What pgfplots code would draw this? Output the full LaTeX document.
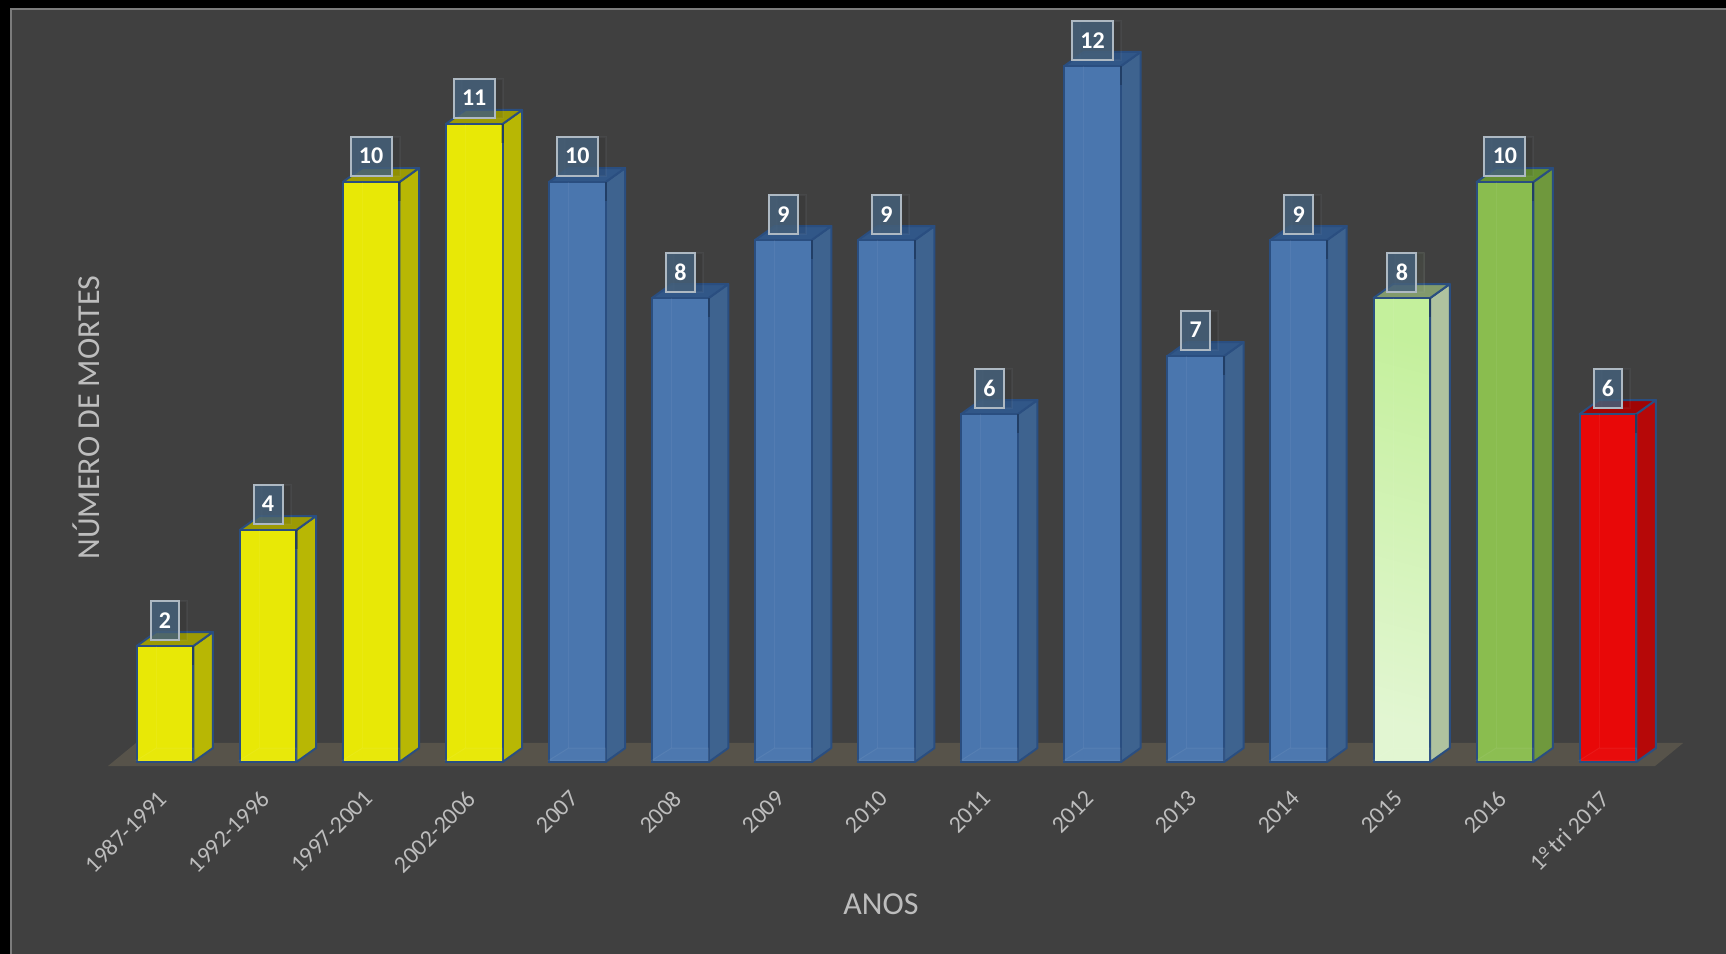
\documentclass[border=0pt]{standalone}
\usepackage{pgfplots}
\pgfplotsset{compat=1.18}
\usetikzlibrary{shadows}
\usepackage{fontspec}
\setmainfont{Carlito}
\definecolor{panel}{HTML}{404040}
\definecolor{panelrule}{HTML}{7C7C7C}
\definecolor{floorc}{HTML}{57534A}
\definecolor{edge}{HTML}{2A4E80}
\definecolor{axtext}{HTML}{BDBDBD}
\definecolor{yelF}{HTML}{E8E806}
\definecolor{yelS}{HTML}{B8B704}
\definecolor{yelT}{HTML}{9C9A04}
\definecolor{bluF}{HTML}{4A76AE}
\definecolor{bluS}{HTML}{3E638F}
\definecolor{bluT}{HTML}{315788}
\definecolor{limT1}{HTML}{C4F09C}
\definecolor{limB1}{HTML}{E2F6D2}
\definecolor{limS}{HTML}{AFC29F}
\definecolor{limT}{HTML}{829A6C}
\definecolor{grnF}{HTML}{8ABD4F}
\definecolor{grnS}{HTML}{6F983D}
\definecolor{grnT}{HTML}{659032}
\definecolor{redF}{HTML}{E80808}
\definecolor{redS}{HTML}{B60808}
\definecolor{redT}{HTML}{A00404}
\definecolor{boxF}{HTML}{45607A}
\definecolor{boxE}{HTML}{AEB9C3}

\tikzset{valuebox/.style={anchor=center, yshift=12.9pt,
    fill=boxF, fill opacity=0.85, draw=boxE, draw opacity=1, text opacity=1,
    line width=1pt, inner xsep=4.2pt, inner ysep=0pt,
    minimum height=19.5pt,
    drop shadow={shadow xshift=4pt, shadow yshift=0pt, opacity=0.07, fill=black},
    text=white, font=\fontsize{12}{14}\selectfont\bfseries}}

% half bar width and perspective depth, in axis units
\def\hw{0.275}
\def\ddx{0.19}
\def\ddy{0.2414}

% #1 position, #2 value, #3 front style, #4 side colour, #5 top colour
\newcommand{\threedbar}[5]{%
  \pgfmathsetmacro{\xl}{#1-\hw}%
  \pgfmathsetmacro{\xr}{#1+\hw}%
  \pgfmathsetmacro{\xlb}{#1-\hw+\ddx}%
  \pgfmathsetmacro{\xrb}{#1+\hw+\ddx}%
  \pgfmathsetmacro{\yb}{#2+\ddy}%
  \pgfmathsetmacro{\ynotch}{#2-0.33}%
  \addplot[draw=edge, line width=1pt, line join=round, fill=#4] coordinates
    {(\xr,0) (\xrb,\ddy) (\xrb,\yb) (\xr,#2)} --cycle;
  \addplot[draw=edge, line width=1pt, line join=round, fill=#5] coordinates
    {(\xl,#2) (\xlb,\yb) (\xrb,\yb) (\xr,#2)} --cycle;
  \addplot[ybar, bar width=0.55, draw=edge, line width=1pt, #3,
    nodes near coords={\pgfmathprintnumber[assume math mode=true]{\pgfplotspointmeta}},
    every node near coord/.style=valuebox]
    coordinates {(#1,#2)};
  % faint inner floor and back corner seen through the front face
  \addplot[draw=white, draw opacity=0.06, fill=white, fill opacity=0.02, line width=0.5pt]
    coordinates {(\xl,0.03) (\xlb,\ddy) (\xr,\ddy) (\xr,0.03)} --cycle;
  \addplot[draw=white, draw opacity=0.05, line width=0.5pt]
    coordinates {(\xlb,\ddy) (\xlb,#2)};
  % short dark notch at the top of the shared edge
  \addplot[draw=black, draw opacity=0.2, line width=1.1pt]
    coordinates {(\xr,#2) (\xr,\ynotch)};
}

\begin{document}
\begin{tikzpicture}
\useasboundingbox (0,0) rectangle (863pt,477pt);
\fill[black] (0,0) rectangle (863pt,477pt);
\fill[panel] (5pt,-2pt) rectangle (866pt,473pt);
\draw[panelrule, line width=1pt] (5.5pt,-2pt) -- (5.5pt,472.5pt) -- (866pt,472.5pt);
\begin{axis}[
  at={(0,0)}, anchor=south west,
  scale only axis, width=863pt, height=477pt,
  xmin=-1.6009, xmax=15.145, ymin=-3.310, ymax=13.138,
  clip=false,
  axis x line=middle, axis y line=left,
  axis line style={draw=none,-},
  hide obscured x ticks=false,
  major tick length=0pt,
  xtick={0,...,14},
  xticklabels={1987-1991,1992-1996,1997-2001,2002-2006,2007,2008,2009,2010,2011,2012,2013,2014,2015,2016,1\kern0.03em\rlap{º}\raisebox{0.30em}{\rule{0.34em}{0.05em}} tri 2017},
  xticklabel shift=9.2pt,
  x tick label style={rotate=45, anchor=north east, inner sep=0pt, xshift=-5.9pt,
    font=\fontsize{11.9}{14}\selectfont, text=axtext},
  ytick=\empty,
  xlabel={ANOS}, ylabel={NÚMERO DE MORTES},
  every axis x label/.style={at={(rel axis cs:0.5104,0.0525)}, anchor=center,
    font=\fontsize{16}{18}\selectfont, text=axtext},
  every axis y label/.style={at={(rel axis cs:0.0497,0.5623)}, anchor=center, rotate=90,
    font=\fontsize{16}{18}\selectfont, text=axtext},
]
% ground plate
\addplot[draw=none, fill=floorc] coordinates
  {(-0.553,-0.069) (14.457,-0.069) (14.729,0.328) (-0.281,0.328)} --cycle;

\threedbar{0}{2}{fill=yelF}{yelS}{yelT}
\threedbar{1}{4}{fill=yelF}{yelS}{yelT}
\threedbar{2}{10}{fill=yelF}{yelS}{yelT}
\threedbar{3}{11}{fill=yelF}{yelS}{yelT}
\threedbar{4}{10}{fill=bluF}{bluS}{bluT}
\threedbar{5}{8}{fill=bluF}{bluS}{bluT}
\threedbar{6}{9}{fill=bluF}{bluS}{bluT}
\threedbar{7}{9}{fill=bluF}{bluS}{bluT}
\threedbar{8}{6}{fill=bluF}{bluS}{bluT}
\threedbar{9}{12}{fill=bluF}{bluS}{bluT}
\threedbar{10}{7}{fill=bluF}{bluS}{bluT}
\threedbar{11}{9}{fill=bluF}{bluS}{bluT}
\threedbar{12}{8}{top color=limT1, bottom color=limB1, shading angle=-15}{limS}{limT}
\threedbar{13}{10}{fill=grnF}{grnS}{grnT}
\threedbar{14}{6}{fill=redF}{redS}{redT}
\end{axis}
\end{tikzpicture}
\end{document}
